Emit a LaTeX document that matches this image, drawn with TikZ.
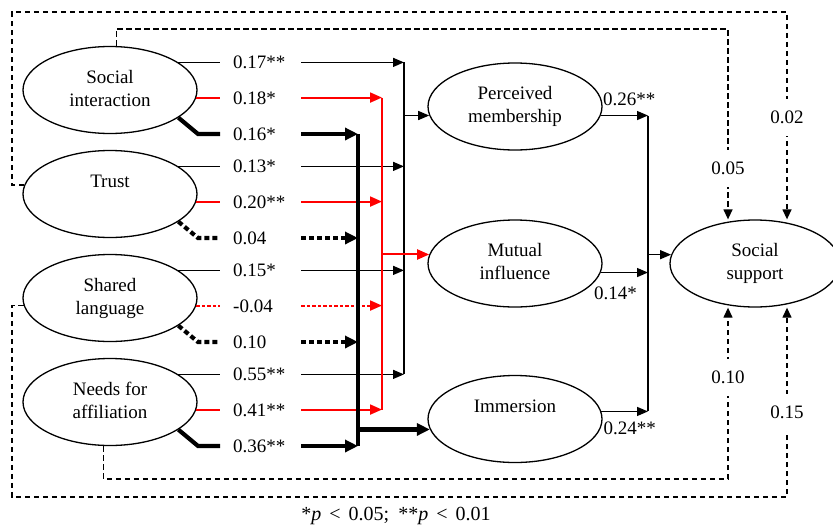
\documentclass[tikz,border=0pt]{standalone}
\usepackage{fontspec}
\setmainfont{Liberation Serif}
\usetikzlibrary{arrows.meta,shapes.geometric,calc}

% two-line text for the ellipses, with struts so single lines sit like first lines
\newcommand\lvtext[2]{\strut#1\\\strut#2}

% the three coefficient paths leaving one antecedent:
% #1 node, #2 thin coef, #3 red coef, #4 red style, #5 bold coef, #6 bold style
\newcommand\sourcerows[6]{%
  \node[coef] (#1-a) at (lblcol |- #1.22) {#2};
  \node[coef] (#1-b) at (lblcol |- #1.-5) {#3};
  \node[coef] (#1-c) at ($(lblcol |- #1.center)+(0,44)$) {#5};
  \draw[thinpath] (#1.22) -- ([xshift=-13pt]#1-a.west);
  \draw[thinpath, thintip] (#1-a.east) -- (#1-a.east -| busT);
  \draw[#4] (#1.-5) -- ([xshift=-13pt]#1-b.west);
  \draw[#4, redtip] (#1-b.east) -- (#1-b.east -| busR);
  \draw[#6] (#1.-22) -- ([xshift=-35pt]#1-c.west) -- ([xshift=-13pt]#1-c.west);
  \draw[#6, boldtip] (#1-c.east) -- (#1-c.east -| busK);
}

\tikzset{
  latent/.style={ellipse, draw, line width=1.3pt, fill=white,
    minimum width=174pt, minimum height=87pt, inner sep=0pt, align=center},
  coef/.style={anchor=west, inner sep=0pt, text width=68pt, align=left,
    text height=13pt, text depth=0pt},
  plain/.style={inner sep=0pt, text height=13pt, text depth=0pt},
  dlabel/.style={fill=white, inner xsep=2pt, inner ysep=12pt,
    text height=13pt, text depth=0pt},
  thinpath/.style={line width=1.4pt},
  thintip/.style={-{Triangle[length=11pt,width=9pt]}},
  redpath/.style={red, line width=2pt},
  reddot/.style={redpath, dash pattern=on 3.5pt off 2pt},
  redtip/.style={-{Triangle[length=12pt,width=10pt]}},
  boldpath/.style={line width=4.2pt, line join=miter},
  bolddot/.style={boldpath, dash pattern=on 5pt off 3pt},
  boldtip/.style={-{Triangle[length=13pt,width=12pt]}},
  covpath/.style={line width=1.3pt, dash pattern=on 5.5pt off 3.5pt},
  covtip/.style={-{Triangle[length=10pt,width=9pt]}}
}

\begin{document}
\begin{tikzpicture}[x=1pt, y=-1pt, font=\fontsize{19pt}{23pt}\selectfont]
\useasboundingbox (0,0) rectangle (833,528);
\clip (0,0) rectangle (833,528);

% routing columns and rows
\coordinate (lblcol) at (233,0);
\coordinate (busK) at (358,0);
\coordinate (busR) at (382,0);
\coordinate (busT) at (404,0);
\coordinate (busM) at (648,0);
\coordinate (inCol) at (728,0);
\coordinate (outCol) at (787,0);
\coordinate (outLeft) at (12,0);
\coordinate (outTop) at (0,12);
\coordinate (inTop) at (0,29);
\coordinate (inBot) at (0,479);
\coordinate (outBot) at (0,497);

% antecedents
\node[latent] (si) at (110,90)  {\lvtext{Social}{interaction}};
\node[latent] (tr) at (110,194) {\lvtext{Trust}{}};
\node[latent] (sl) at (110,298) {\lvtext{Shared}{language}};
\node[latent] (na) at (110,402) {\lvtext{Needs for}{affiliation}};

% mediators and outcome
\node[latent] (pm) at (515,106.5) {\lvtext{Perceived}{membership}};
\node[latent] (mi) at (515,263.5) {\lvtext{Mutual}{influence}};
\node[latent] (im) at (515,419)   {\lvtext{Immersion}{}};
\node[latent, minimum width=170pt] (ss) at (755,263.5) {\lvtext{Social}{support}};

% antecedent paths
\sourcerows{si}{0.17**}{0.18*}{redpath}{0.16*}{boldpath}
\sourcerows{tr}{0.13*}{0.20**}{redpath}{0.04}{bolddot}
\sourcerows{sl}{0.15*}{-0.04}{reddot}{0.10}{bolddot}
\sourcerows{na}{0.55**}{0.41**}{redpath}{0.36**}{boldpath}

% collecting bars
\draw[thinpath] (busT |- si-a.east) -- (busT |- na-a.east);
\draw[redpath]  (busR |- si-b.east) -- (busR |- na-b.east);
\draw[boldpath] (busK |- si-c.east) -- (busK |- na-c.east);

\draw[thinpath, thintip] (busT |- pm.186) -- (pm.186);
\draw[redpath, redtip]   (busR |- mi.174) -- (mi.174);
\draw[boldpath, boldtip] (busK |- im.187) -- (im.187);

% mediators to social support
\draw[thinpath, thintip] (pm.-6) -- (busM |- pm.-6);
\draw[thinpath, thintip] (mi.-6) -- (busM |- mi.-6);
\draw[thinpath, thintip] (im.5) -- (busM |- im.5);
\draw[thinpath] (busM |- pm.-6) -- (busM |- im.5);
\draw[thinpath, thintip] (busM |- ss.174) -- (ss.174);

\node[plain, anchor=west] (c26) at ($(pm.-6)+(2,-17)$) {0.26**};
\node[plain, anchor=west] (c14) at ($(mi.-6)+(-7,20)$) {0.14*};
\node[plain, anchor=west] (c24) at ($(im.5)+(2,17)$) {0.24**};

% direct paths to social support
\draw[covpath, covtip] (si.82) -- (si.82 |- inTop) -- (inCol |- inTop) -- (inCol |- ss.north);
\draw[covpath, covtip] (tr.174) -- (outLeft |- tr.174) -- (outLeft |- outTop)
  -- (outCol |- outTop) -- (outCol |- ss.north);
\draw[covpath, covtip] (sl.185) -- (outLeft |- sl.185) -- (outLeft |- outBot)
  -- (outCol |- outBot) -- (outCol |- ss.south);
\draw[covpath, covtip] (na.262) -- (na.262 |- inBot) -- (inCol |- inBot) -- (inCol |- ss.south);

\node[dlabel] (d05) at ($(inCol)+(0,168)$) {0.05};
\node[dlabel] (d02) at ($(outCol)+(0,117)$) {0.02};
\node[dlabel] (d10) at ($(inCol)+(0,377)$) {0.10};
\node[dlabel] (d15) at ($(outCol)+(0,412)$) {0.15};

% significance note
\node[font=\fontsize{20pt}{24pt}\selectfont] (note) at (396,516)
  {*\textit{p}\hspace{8pt}<\hspace{8pt}0.05;\hspace{9pt}**\textit{p}\hspace{8pt}<\hspace{8pt}0.01};
\end{tikzpicture}
\end{document}
